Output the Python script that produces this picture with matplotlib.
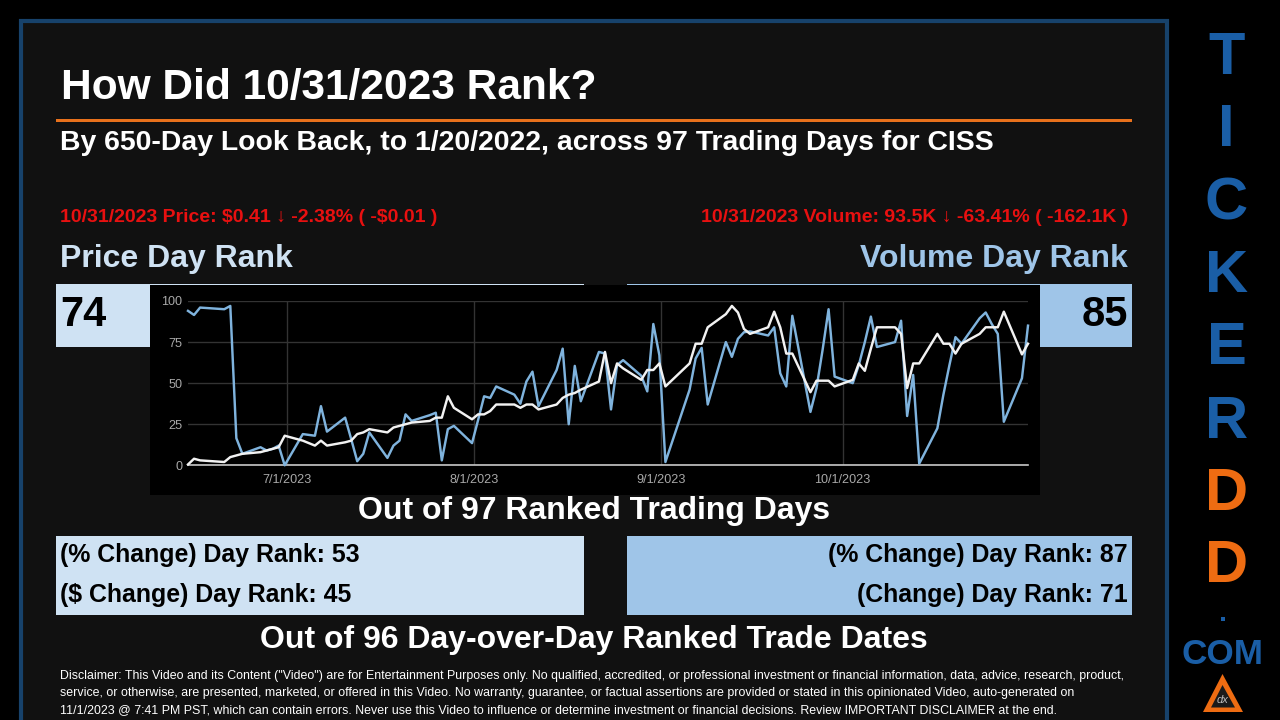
import pandas as pd
from matplotlib import pyplot as plt
from matplotlib.patches import Rectangle, Polygon

plt.rcParams['font.family'] = ['Liberation Sans', 'DejaVu Sans']

# trading days, month by month
june = ['6/14', '6/15', '6/16', '6/20', '6/21', '6/22', '6/23', '6/26', '6/27', '6/28', '6/29', '6/30']
july = ['7/3', '7/5', '7/6', '7/7', '7/10', '7/11', '7/12', '7/13', '7/14', '7/17', '7/18', '7/19',
        '7/20', '7/21', '7/24', '7/25', '7/26', '7/27', '7/28', '7/31']
august = ['8/1', '8/2', '8/3', '8/4', '8/7', '8/8', '8/9', '8/10', '8/11', '8/14', '8/15', '8/16',
          '8/17', '8/18', '8/21', '8/22', '8/23', '8/24', '8/25', '8/28', '8/29', '8/30', '8/31']
september = ['9/1', '9/5', '9/6', '9/7', '9/8', '9/11', '9/12', '9/13', '9/14', '9/15', '9/18', '9/19',
             '9/20', '9/21', '9/22', '9/25', '9/26', '9/27', '9/28', '9/29']
october = ['10/2', '10/3', '10/4', '10/5', '10/6', '10/9', '10/10', '10/11', '10/12', '10/13', '10/16',
           '10/17', '10/18', '10/19', '10/20', '10/23', '10/24', '10/25', '10/26', '10/27', '10/30', '10/31']
days = june + july + august + september + october

volume_rank = [94, 91.5, 96, 95, 97, 16.5, 7, 11, 9, 10, 12, 0,
               19, 18, 36, 20.5, 29, 16, 2.5, 7, 20, 4.5, 12, 15,
               31, 27, 30.5, 32, 3, 22, 24, 13.5,
               27.5, 42, 41, 48, 43, 37.5, 51, 57, 36, 58, 71, 25,
               60.5, 39, 69, 68, 34, 61, 64, 54.5, 45, 86, 67,
               2, 46, 65, 71.5, 37, 75, 66, 77, 81, 81.5, 79, 84,
               56, 48, 91, 32.5, 47, 70, 95, 54,
               50, 61, 75, 90.5, 72, 75, 88, 30, 55, 1, 22.5,
               43, 61, 78, 74, 89.5, 93, 86, 80, 26.5, 53, 85]
price_rank = [0.5, 4, 3, 2, 5, 6, 7, 8, 9, 10, 11, 18,
              15, 12, 15, 12, 14, 15, 19, 20, 22, 20, 23, 24,
              25, 26, 27, 29, 29, 42, 35, 28,
              31, 31, 33, 37, 37, 35, 37, 37, 34, 37, 41, 43,
              44, 46, 51, 69, 50, 62, 59, 52, 58, 58, 62,
              48, 62, 74, 74, 84, 92, 97, 93, 83, 80, 84, 93.5,
              84, 68, 68, 44.5, 51.5, 51.5, 51.5, 48,
              52, 62, 57.5, 71, 84, 84, 80, 47, 62, 62, 80,
              74, 74, 68, 74, 80, 84, 84, 84, 93.5, 67.5, 74]

tick_labels = ['7/1/2023', '8/1/2023', '9/1/2023', '10/1/2023']
y_ticks = [0, 25, 50, 75, 100]

disclaimer = [
    'Disclaimer: This Video and its Content ("Video") are for Entertainment Purposes only. No qualified, accredited, or professional investment or financial information, data, advice, research, product,',
    'service, or otherwise, are presented, marketed, or offered in this Video. No warranty, guarantee, or factual assertions are provided or stated in this opinionated Video, auto-generated on',
    '11/1/2023 @ 7:41 PM PST, which can contain errors. Never use this Video to influence or determine investment or financial decisions. Review IMPORTANT DISCLAIMER at the end.',
]

BLUE = '#1a5ea6'
ORANGE = '#ee6c12'
LIGHT = '#cfe2f3'
MID = '#9fc5e8'
RED = '#e81010'

fig = plt.figure(figsize=(12.8, 7.2), dpi=100, facecolor='black')

# whole slide drawn in pixel coordinates
bg = fig.add_axes([0, 0, 1, 1])
bg.set_xlim(0, 1280)
bg.set_ylim(720, 0)
bg.axis('off')

bg.add_patch(Rectangle((21, 21), 1146, 720, fc='#111111', ec='#17426b', lw=3))
bg.add_patch(Rectangle((56, 118.5), 1076, 3.5, fc='#e8711c', ec='none'))


def txt(x, y, s, size, color='white', ha='left', weight='bold'):
    bg.text(x, y, s, fontsize=size, color=color, ha=ha, va='center', fontweight=weight, parse_math=False)


txt(61, 88, 'How Did 10/31/2023 Rank?', 30.6)
txt(60, 143, 'By 650-Day Look Back, to 1/20/2022, across 97 Trading Days for CISS', 20.45)
txt(60, 218, '10/31/2023 Price: $0.41 ↓ -2.38% ( -$0.01 )', 14, RED)
txt(1128, 218, '10/31/2023 Volume: 93.5K ↓ -63.41% ( -162.1K )', 14, RED, ha='right')
txt(60, 259, 'Price Day Rank', 23, LIGHT)
txt(1128, 259, 'Volume Day Rank', 23, MID, ha='right')

bg.add_patch(Rectangle((56, 284), 528, 63, fc=LIGHT, ec='none'))
bg.add_patch(Rectangle((627, 284), 505, 63, fc=MID, ec='none'))
bg.add_patch(Rectangle((150, 285), 890, 210, fc='black', ec='none'))
txt(60, 315, '74', 30, 'black')
txt(1128, 315, '85', 30, 'black', ha='right')

txt(594, 511, 'Out of 97 Ranked Trading Days', 23, ha='center')
bg.add_patch(Rectangle((56, 536), 528, 79, fc=LIGHT, ec='none'))
bg.add_patch(Rectangle((627, 536), 505, 79, fc=MID, ec='none'))
txt(60, 555, '(% Change) Day Rank: 53', 17.9, 'black')
txt(60, 595, '($ Change) Day Rank: 45', 17.9, 'black')
txt(1128, 555, '(% Change) Day Rank: 87', 17.9, 'black', ha='right')
txt(1128, 595, '(Change) Day Rank: 71', 17.9, 'black', ha='right')
txt(594, 640, 'Out of 96 Day-over-Day Ranked Trade Dates', 23, ha='center')

for line_y, line in zip([676, 693, 710], disclaimer):
    txt(60, line_y, line, 8.9, weight='normal')

# site name down the right side
for letter_y, letter, col in zip([59, 131, 204, 277, 349, 422, 494, 567],
                                 'TICKERDD', [BLUE] * 6 + [ORANGE] * 2):
    txt(1226.5, letter_y, letter, 43, col, ha='center')
bg.add_patch(Rectangle((1220.5, 617), 4, 4, fc=BLUE, ec='none'))
txt(1222.5, 655, 'COM', 25.3, BLUE, ha='center')

bg.add_patch(Polygon([(1222.5, 674), (1203, 712), (1243, 712)], fc=ORANGE, ec='none'))
bg.add_patch(Polygon([(1222.5, 685), (1211, 707.5), (1235, 707.5)], fc='#1a1a1a', ec='none'))
bg.text(1222.5, 700, 'dx', fontsize=8, color='#bbbbbb', ha='center', va='center', style='italic')

# the rank chart
dates = pd.to_datetime([d + '/2023' for d in days], format='%m/%d/%Y')
ax = fig.add_axes([188 / 1280, 1 - 465.3 / 720, 840 / 1280, 164.3 / 720], facecolor='none')
ax.plot(dates, volume_rank, color='#7fb3dd', lw=1.75, clip_on=False, zorder=3)
ax.plot(dates, price_rank, color='#f2f2f2', lw=1.75, clip_on=False, zorder=4)

ax.set_xlim(dates[0], dates[-1])
ax.set_ylim(0, 100)
# ticks sit a little before midnight on the labelled day
ax.set_xticks(pd.to_datetime(['2023-06-30 08:00', '2023-07-31 08:00', '2023-08-31 08:00', '2023-09-30 08:00']))
ax.set_xticklabels(tick_labels)
ax.set_yticks(y_ticks)
ax.grid(True, color='#333333', lw=1)
ax.set_axisbelow(True)
ax.tick_params(length=0, labelcolor='#a8a8a8', labelsize=9.1)
ax.tick_params(axis='x', pad=6)
ax.tick_params(axis='y', pad=4)
for name in ['top', 'left', 'right']:
    ax.spines[name].set_visible(False)
ax.spines['bottom'].set_color('#c8c8c8')
ax.spines['bottom'].set_linewidth(1.2)

fig.savefig('out.png', dpi=100, facecolor=fig.get_facecolor())
